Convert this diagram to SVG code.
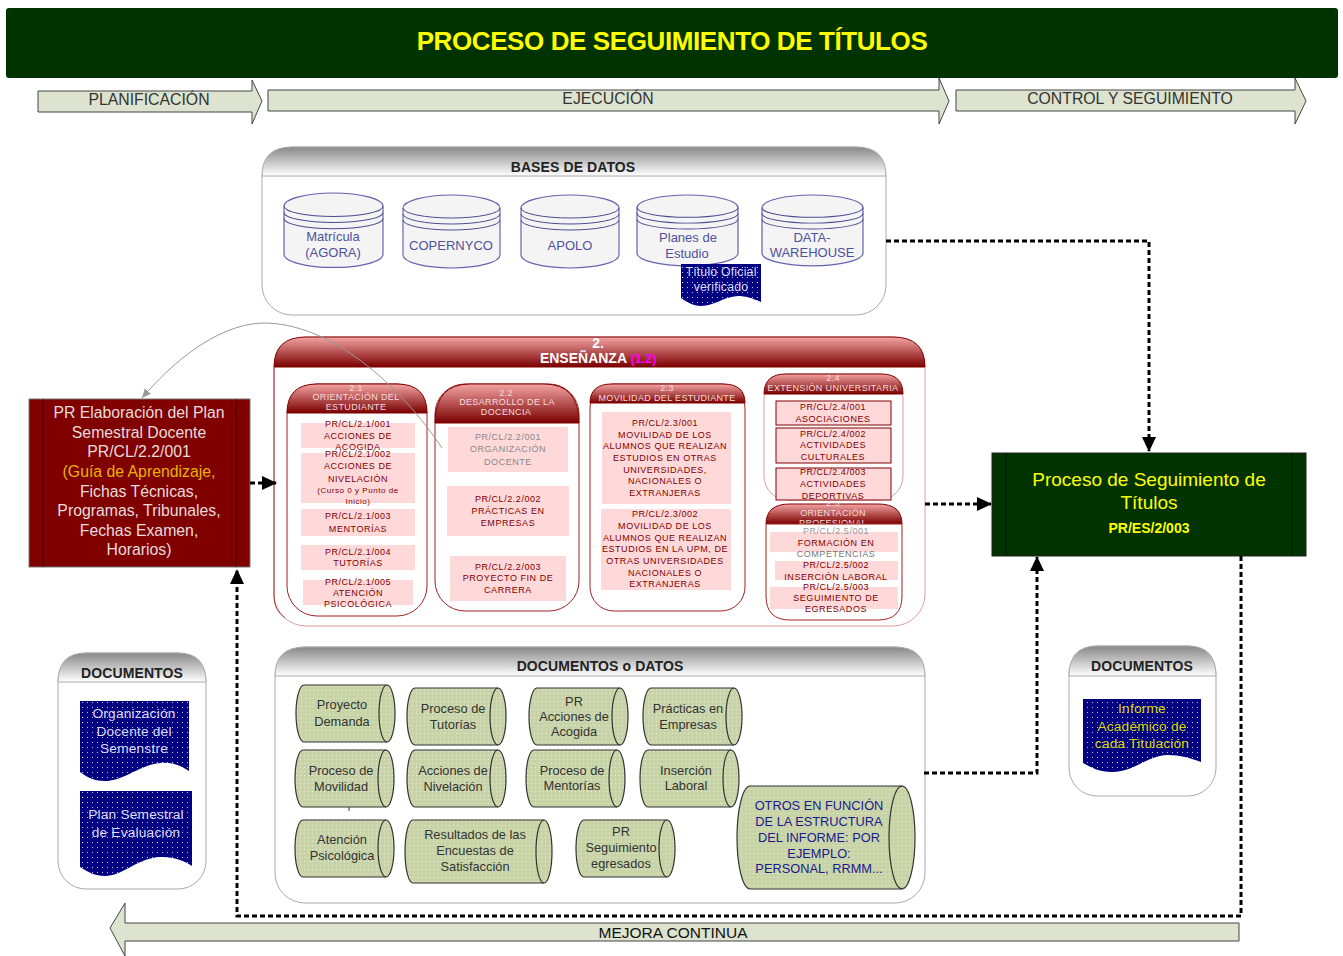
<svg xmlns="http://www.w3.org/2000/svg" width="1343" height="956" viewBox="0 0 1343 956">
<style>
text{font-family:"Liberation Sans",Arial,sans-serif;text-anchor:middle}
.arr{fill:#dde3cf;stroke:#444;stroke-width:1}
.arrt{font-size:15.8px;fill:#333}
.panel{fill:#fff;stroke:#aaa;stroke-width:1}
.ghead{fill:url(#gray);stroke:#aaa;stroke-width:1}
.gt{font-size:14px;font-weight:bold;fill:#222;letter-spacing:.1px}
.rbody{fill:#fff;stroke:#a02020;stroke-width:1}
.rhead{fill:url(#red);stroke:#800000;stroke-width:1}
.rh{font-size:9px;fill:#f4dcdc;letter-spacing:.35px}
.pk{fill:#ffd9d9}
.pks{fill:#ffd9d9;stroke:#800000;stroke-width:1}
.t{font-size:9px;fill:#800000;letter-spacing:.55px}
.cy{fill:#f4f4f4;stroke:#6464b0;stroke-width:1.2}
.cyl{fill:none;stroke:#4a4a90;stroke-width:1}
.cyt{font-size:13px;fill:#5050a0}
.doc{fill:url(#bdots)}
.dt{font-size:13.700px;fill:#dcdcf4;letter-spacing:.2px}
.gs{fill:url(#gdots);stroke:#333;stroke-width:1.2}
.gi{fill:none;stroke:#333;stroke-width:1.2}
.st{font-size:12.800px;fill:#333}
.con{fill:none;stroke:#000;stroke-width:3;stroke-dasharray:5 3}
.lb{font-size:15.800px;fill:#e8dcdc}
</style>
<defs>
<linearGradient id="gray" x1="0" y1="0" x2="0" y2="1"><stop offset="0" stop-color="#888"/><stop offset="1" stop-color="#fff"/></linearGradient>
<linearGradient id="red" x1="0" y1="0" x2="0" y2="1"><stop offset="0" stop-color="#f4a4a4"/><stop offset="1" stop-color="#7a0000"/></linearGradient>
<pattern id="bdots" width="5" height="5" patternUnits="userSpaceOnUse"><rect width="5" height="5" fill="#000080"/><rect x="2" y="2" width="1" height="1" fill="#c8c8ee"/></pattern>
<pattern id="gdots" width="4" height="4" patternUnits="userSpaceOnUse"><rect width="4" height="4" fill="#c8d4a8"/><rect x="1" y="1" width="1" height="1" fill="#e6ecd6"/></pattern>
<marker id="ah" markerUnits="userSpaceOnUse" markerWidth="16" markerHeight="16" refX="14" refY="8" orient="auto"><path d="M0 1 L15 8 L0 15 Z" fill="#000"/></marker>
<marker id="gh" markerUnits="userSpaceOnUse" markerWidth="10" markerHeight="10" refX="9" refY="5" orient="auto"><path d="M0 1 L9 5 L0 9 Z" fill="#999"/></marker>
<g id="ds"><path class="gs" d="M8 0 H91 A8 28.500 0 0 1 91 57 H8 A8 28.500 0 0 1 8 0 Z"/><path class="gi" d="M91 0 A8 28.500 0 0 0 91 57"/></g>
<g id="cylT">
<path d="M0 13 A50 13 0 0 1 100 13 V60 A50 13 0 0 1 0 60 Z" class="cy"/>
<path d="M0 13 A50 10 0 0 0 100 13 M0 19 A50 10 0 0 0 100 19 M0 25 A50 10 0 0 0 100 25" class="cyl"/>
</g>
</defs>

<g id="title"><rect x="6" y="8" width="1332" height="70" rx="3" fill="#003300"/><text x="672" y="50" font-size="26" font-weight="bold" fill="#ffff00" letter-spacing="-.4">PROCESO DE SEGUIMIENTO DE TÍTULOS</text></g>

<g id="planificacion"><path class="arr" d="M38 91 H252 V80 L262 101 L252 124 V112 H38 Z"/><text class="arrt" x="149" y="105">PLANIFICACIÓN</text></g>
<g id="ejecucion"><path class="arr" d="M268 90 H939 V78 L949 101 L939 124 V111 H268 Z"/><text class="arrt" x="608" y="104">EJECUCIÓN</text></g>
<g id="control"><path class="arr" d="M956 90 H1295 V78 L1306 101 L1295 124 V111 H956 Z"/><text class="arrt" x="1130" y="104">CONTROL Y SEGUIMIENTO</text></g>
<g id="mejora"><path class="arr" d="M1239 923 H125 V903 L110 928 L125 956 V941 H1239 Z"/><text x="673" y="938" font-size="15.500" fill="#111">MEJORA CONTINUA</text></g>

<g id="bases">
<rect class="panel" x="262" y="147" width="624" height="168" rx="30"/>
<path class="ghead" d="M262 176 Q262 147 292 147 H856 Q886 147 886 176 Z"/>
<text class="gt" x="573" y="172">BASES DE DATOS</text>
<use href="#cylT" transform="translate(284 193) scale(.99 1.02)"/><text class="cyt" x="333" y="241">Matrícula</text><text class="cyt" x="333" y="257">(AGORA)</text>
<use href="#cylT" transform="translate(403 195) scale(.97 1)"/><text class="cyt" x="451" y="250">COPERNYCO</text>
<use href="#cylT" transform="translate(521 195) scale(.98 1)"/><text class="cyt" x="570" y="250">APOLO</text>
<use href="#cylT" transform="translate(637 195) scale(1.01 .97)"/><text class="cyt" x="688" y="242">Planes de</text><text class="cyt" x="687" y="258">Estudio</text>
<use href="#cylT" transform="translate(762 195) scale(1.01 .97)"/><text class="cyt" x="812" y="242">DATA-</text><text class="cyt" x="812" y="257">WAREHOUSE</text>
<path class="doc" d="M681 264 H761 V302 C752 298 745 296 738 296 C722 297 715 306 701 306 C693 306 687 302 681 298 Z"/>
<text class="dt" style="font-size:12.300px" x="721" y="276">Título Oficial</text><text class="dt" style="font-size:12.300px" x="721" y="291">verificado</text>
</g>

<g id="ensenanza">
<rect x="274" y="337" width="651" height="289" rx="32" fill="#fff" stroke="#d8a0a0"/>
<path class="rhead" d="M274 367 Q274 337 306 337 H893 Q925 337 925 367 Z"/>
<path d="M274 367 V596 Q274 610 285 618" fill="none" stroke="#a03030"/>
<text x="598" y="348" font-size="14" font-weight="bold" fill="#fff">2.</text>
<text x="598" y="363" font-size="14" font-weight="bold" fill="#fff">ENSEÑANZA <tspan fill="#ff00ff" font-size="12.500">(1.2)</tspan></text>
</g>

<g id="n21">
<rect class="rbody" x="287" y="384" width="140" height="232" rx="30"/>
<path class="rhead" d="M287 413 Q287 384 317 384 H397 Q427 384 427 413 Z"/>
<text class="rh" x="356" y="391">2.1</text><text class="rh" x="356" y="400">ORIENTACIÓN DEL</text><text class="rh" x="356" y="410">ESTUDIANTE</text>
<rect class="pk" x="301" y="423" width="114" height="25"/><rect class="pk" x="301" y="453" width="114" height="50"/><rect class="pk" x="301" y="509" width="114" height="27"/><rect class="pk" x="301" y="545" width="114" height="25"/><rect class="pk" x="303" y="580" width="110" height="25"/>
<text class="t" x="358" y="427">PR/CL/2.1/001</text><text class="t" x="358" y="438.500">ACCIONES DE</text><text class="t" x="358" y="449.500">ACOGIDA</text>
<text class="t" x="358" y="457">PR/CL/2.1/002</text><text class="t" x="358" y="469">ACCIONES DE</text><text class="t" x="358" y="481.500">NIVELACIÓN</text>
<text class="t" style="font-size:8px" x="358" y="493">(Curso 0 y Punto de</text><text class="t" style="font-size:8px" x="358" y="504">Inicio)</text>
<text class="t" x="358" y="519">PR/CL/2.1/003</text><text class="t" x="358" y="532">MENTORÍAS</text>
<text class="t" x="358" y="555">PR/CL/2.1/004</text><text class="t" x="358" y="566">TUTORÍAS</text>
<text class="t" x="358" y="584.500">PR/CL/2.1/005</text><text class="t" x="358" y="596">ATENCIÓN</text><text class="t" x="358" y="607">PSICOLÓGICA</text>
</g>

<g id="n22">
<rect class="rbody" x="435" y="384" width="144" height="227" rx="30"/>
<path class="rhead" d="M435 423 Q435 384 470 384 H544 Q579 384 579 423 Z"/>
<text class="rh" x="506" y="396">2.2</text><text class="rh" x="507" y="405">DESARROLLO DE LA</text><text class="rh" x="506" y="415">DOCENCIA</text>
<rect class="pk" x="448" y="427" width="120" height="45"/><rect class="pk" x="447" y="486" width="122" height="50"/><rect class="pk" x="450" y="556" width="116" height="45"/>
<text class="t" style="fill:#888" x="508" y="440">PR/CL/2.2/001</text><text class="t" style="fill:#888" x="508" y="452">ORGANIZACIÓN</text><text class="t" style="fill:#888" x="508" y="464.500">DOCENTE</text>
<text class="t" x="508" y="501.500">PR/CL/2.2/002</text><text class="t" x="508" y="514">PRÁCTICAS EN</text><text class="t" x="508" y="526">EMPRESAS</text>
<text class="t" x="508" y="570">PR/CL/2.2/003</text><text class="t" x="508" y="581">PROYECTO FIN DE</text><text class="t" x="508" y="593">CARRERA</text>
</g>

<g id="n23">
<rect class="rbody" x="590" y="384" width="155" height="227" rx="24"/>
<path class="rhead" d="M590 403 Q590 384 612 384 H723 Q745 384 745 403 Z"/>
<text class="rh" x="667" y="391">2.3</text><text class="rh" x="667" y="400.500">MOVILIDAD DEL ESTUDIANTE</text>
<rect class="pk" x="602" y="412" width="129" height="92"/><rect class="pk" x="601" y="509" width="130" height="81"/>
<text class="t" x="665" y="426">PR/CL/2.3/001</text><text class="t" x="665" y="437.500">MOVILIDAD DE LOS</text><text class="t" x="665" y="449">ALUMNOS QUE REALIZAN</text><text class="t" x="665" y="460.500">ESTUDIOS EN OTRAS</text><text class="t" x="665" y="472.500">UNIVERSIDADES,</text><text class="t" x="665" y="484">NACIONALES O</text><text class="t" x="665" y="496">EXTRANJERAS</text>
<text class="t" x="665" y="517">PR/CL/2.3/002</text><text class="t" x="665" y="529">MOVILIDAD DE LOS</text><text class="t" x="665" y="540.500">ALUMNOS QUE REALIZAN</text><text class="t" x="665" y="552">ESTUDIOS EN LA UPM, DE</text><text class="t" x="665" y="564">OTRAS UNIVERSIDADES</text><text class="t" x="665" y="575.500">NACIONALES O</text><text class="t" x="665" y="587">EXTRANJERAS</text>
</g>

<g id="n25">
<path class="rhead" d="M766 524 Q766 504 790 504 H878 Q902 504 902 524 Z"/>
<text class="rh" x="833" y="506">2.5</text><text class="rh" x="833" y="516">ORIENTACIÓN</text><text class="rh" x="833" y="526">PROFESIONAL</text>
<path class="rbody" d="M766 524 V596 Q766 620 790 620 H878 Q902 620 902 596 V524 Z"/>
<rect class="pk" x="770" y="532" width="128" height="20"/><rect class="pk" x="775" y="561" width="123" height="19"/><rect class="pk" x="770" y="587" width="128" height="22"/>
<text class="t" style="fill:#999" x="836" y="533.500">PR/CL/2.5/001</text><text class="t" x="836" y="546">FORMACIÓN EN</text><text class="t" style="fill:#777" x="836" y="557">COMPETENCIAS</text>
<text class="t" x="836" y="568">PR/CL/2.5/002</text><text class="t" x="836" y="579.500">INSERCIÓN LABORAL</text>
<text class="t" x="836" y="589.500">PR/CL/2.5/003</text><text class="t" x="836" y="601">SEGUIMIENTO DE</text><text class="t" x="836" y="612">EGRESADOS</text>
</g>

<g id="n24">
<rect x="764" y="374" width="139" height="126" rx="24" fill="#fff" stroke="#d8a0a0"/>
<path class="rhead" d="M764 394 Q764 374 786 374 H881 Q903 374 903 394 Z"/>
<text class="rh" x="833" y="381">2.4</text><text class="rh" x="833" y="390.500">EXTENSIÓN UNIVERSITARIA</text>
<rect class="pks" x="776" y="401" width="115" height="24"/><rect class="pks" x="776" y="428" width="115" height="35"/><rect class="pks" x="776" y="468" width="115" height="32"/>
<text class="t" x="833" y="410">PR/CL/2.4/001</text><text class="t" x="833" y="422">ASOCIACIONES</text>
<text class="t" x="833" y="436.500">PR/CL/2.4/002</text><text class="t" x="833" y="448">ACTIVIDADES</text><text class="t" x="833" y="460">CULTURALES</text>
<text class="t" x="833" y="474.500">PR/CL/2.4/003</text><text class="t" x="833" y="487">ACTIVIDADES</text><text class="t" x="833" y="499">DEPORTIVAS</text>
</g>

<g id="elaboracion">
<rect x="29" y="399" width="221" height="168" fill="#800000" stroke="#777"/>
<path d="M43 399 V567 M236 399 V567" stroke="#3c0000" fill="none"/>
<text class="lb" x="139" y="418">PR Elaboración del Plan</text><text class="lb" x="139" y="438">Semestral Docente</text><text class="lb" x="139" y="457">PR/CL/2.2/001</text>
<text class="lb" style="fill:#e6b400" x="139" y="477">(Guía de Aprendizaje,</text><text class="lb" x="139" y="497">Fichas Técnicas,</text><text class="lb" x="139" y="516">Programas, Tribunales,</text><text class="lb" x="139" y="536">Fechas Examen,</text><text class="lb" x="139" y="555">Horarios)</text>
</g>

<g id="seguimiento">
<rect x="992" y="453" width="314" height="103" fill="#003300" stroke="#222"/>
<path d="M1006 453 V556 M1292 453 V556" stroke="#001a00" fill="none"/>
<text x="1149" y="486" font-size="19" fill="#ffff00">Proceso de Seguimiento de</text><text x="1149" y="509" font-size="19" fill="#ffff00">Títulos</text><text x="1149" y="533" font-size="14" font-weight="bold" fill="#ffff00">PR/ES/2/003</text>
</g>

<g id="docs-izq">
<rect class="panel" x="58" y="653" width="148" height="236" rx="28"/>
<path class="ghead" d="M58 682 Q58 653 86 653 H178 Q206 653 206 682 Z"/>
<text class="gt" x="132" y="678">DOCUMENTOS</text>
<path class="doc" d="M80 701 H189 V771 C175 762 165 761 150 765 C130 772 120 781 105 781 C95 781 88 778 80 772 Z"/>
<text class="dt" x="134" y="718">Organización</text><text class="dt" x="134" y="736">Docente del</text><text class="dt" x="134" y="753">Semenstre</text>
<path class="doc" d="M80 791 H192 V866 C180 858 170 857 158 857 C135 860 122 876 105 876 C95 876 88 872 80 867 Z"/>
<text class="dt" x="136" y="819">Plan Semestral</text><text class="dt" x="136" y="837">de Evaluación</text>
</g>

<g id="docs-der">
<rect class="panel" x="1069" y="646" width="147" height="150" rx="28"/>
<path class="ghead" d="M1069 676 Q1069 646 1097 646 H1188 Q1216 646 1216 676 Z"/>
<text class="gt" x="1142" y="671">DOCUMENTOS</text>
<path class="doc" d="M1083 699 H1201 V762 C1190 758 1180 755 1168 755 C1145 756 1135 772 1112 772 C1100 772 1092 768 1083 763 Z"/>
<text class="dt" style="fill:#d8d800" x="1142" y="713">Informe</text><text class="dt" style="fill:#d8d800" x="1142" y="731">Académico de</text><text class="dt" style="fill:#d8d800" x="1142" y="748">cada Titulación</text>
</g>

<g id="datos">
<rect class="panel" x="275" y="647" width="650" height="256" rx="30"/>
<path class="ghead" d="M275 676 Q275 647 305 647 H895 Q925 647 925 676 Z"/>
<text class="gt" x="600" y="671">DOCUMENTOS o DATOS</text>
</g>
<g id="d1"><use href="#ds" transform="translate(296 685)"/><text class="st" x="342" y="709">Proyecto</text><text class="st" x="342" y="726">Demanda</text></g>
<g id="d2"><use href="#ds" transform="translate(407 688)"/><text class="st" x="453" y="713">Proceso de</text><text class="st" x="453" y="729">Tutorías</text></g>
<g id="d3"><use href="#ds" transform="translate(529 688)"/><text class="st" x="574" y="706">PR</text><text class="st" x="574" y="721">Acciones de</text><text class="st" x="574" y="736">Acogida</text></g>
<g id="d4"><use href="#ds" transform="translate(643 688)"/><text class="st" x="688" y="713">Prácticas en</text><text class="st" x="688" y="729">Empresas</text></g>
<g id="d5"><use href="#ds" transform="translate(295 750)"/><text class="st" x="341" y="775">Proceso de</text><text class="st" x="341" y="791">Movilidad</text></g>
<g id="d6"><use href="#ds" transform="translate(407 750)"/><text class="st" x="453" y="775">Acciones de</text><text class="st" x="453" y="791">Nivelación</text></g>
<g id="d7"><use href="#ds" transform="translate(526 750)"/><text class="st" x="572" y="775">Proceso de</text><text class="st" x="572" y="790">Mentorías</text></g>
<g id="d8"><use href="#ds" transform="translate(640 750)"/><text class="st" x="686" y="775">Inserción</text><text class="st" x="686" y="790">Laboral</text></g>
<g id="d9"><use href="#ds" transform="translate(295 820)"/><text class="st" x="342" y="844">Atención</text><text class="st" x="342" y="860">Psicológica</text></g>
<g id="d10"><path class="gs" d="M413 820 H544 A8 31.500 0 0 1 544 883 H413 A8 31.500 0 0 1 413 820 Z"/><path class="gi" d="M544 820 A8 31.500 0 0 0 544 883"/><text class="st" x="475" y="839">Resultados de las</text><text class="st" x="475" y="855">Encuestas de</text><text class="st" x="475" y="871">Satisfacción</text></g>
<g id="d11"><use href="#ds" transform="translate(576 820)"/><text class="st" x="621" y="836">PR</text><text class="st" x="621" y="852">Seguimiento</text><text class="st" x="621" y="868">egresados</text></g>
<g id="d12"><path class="gs" d="M750 786 H902 A13 51.500 0 0 1 902 889 H750 A13 51.500 0 0 1 750 786 Z"/><path class="gi" d="M902 786 A13 51.500 0 0 0 902 889"/>
<text class="st" style="fill:#1a1a8c" x="819" y="810">OTROS EN FUNCIÓN</text><text class="st" style="fill:#1a1a8c" x="819" y="826">DE LA ESTRUCTURA</text><text class="st" style="fill:#1a1a8c" x="819" y="842">DEL INFORME: POR</text><text class="st" style="fill:#1a1a8c" x="819" y="858">EJEMPLO:</text><text class="st" style="fill:#1a1a8c" x="819" y="873">PERSONAL, RRMM...</text></g>

<g id="connectors">
<path class="con" d="M886 241 H1149 V451" marker-end="url(#ah)"/>
<path class="con" d="M250 483 H276" marker-end="url(#ah)"/>
<path class="con" d="M925 504 H991" marker-end="url(#ah)"/>
<path class="con" d="M924 773 H1037 V557" marker-end="url(#ah)"/>
<path class="con" d="M1241 556 V916 H237 V570" marker-end="url(#ah)"/>
<path d="M442 448 C400 385 330 322 262 323 C215 325 170 365 142 398" fill="none" stroke="#999" stroke-width="1" marker-end="url(#gh)"/>
<path d="M349 807 V811" stroke="#333" fill="none"/>
</g>
</svg>
